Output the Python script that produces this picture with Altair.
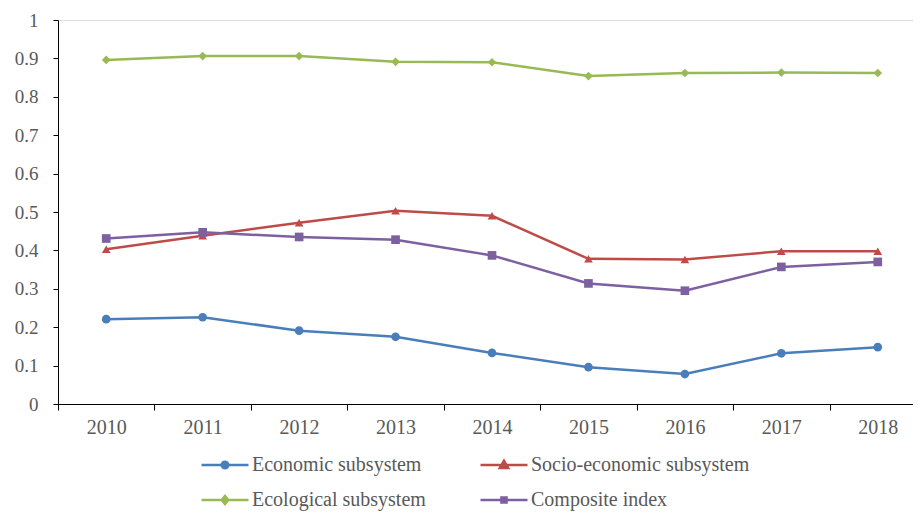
import altair as alt
import pandas as pd

years = ["2010", "2011", "2012", "2013", "2014", "2015", "2016", "2017", "2018"]
series_names = ["Economic subsystem", "Socio-economic subsystem", "Ecological subsystem", "Composite index"]
economic = [0.221, 0.226, 0.191, 0.175, 0.133, 0.096, 0.078, 0.132, 0.148]
socio_economic = [0.403, 0.438, 0.472, 0.503, 0.490, 0.378, 0.376, 0.398, 0.398]
ecological = [0.896, 0.906, 0.906, 0.891, 0.890, 0.854, 0.862, 0.863, 0.862]
composite = [0.431, 0.447, 0.435, 0.428, 0.387, 0.314, 0.295, 0.357, 0.370]
y_ticks = [0, 0.1, 0.2, 0.3, 0.4, 0.5, 0.6, 0.7, 0.8, 0.9, 1]

colors = ["#4A7EBB", "#BE4B48", "#98B954", "#7D60A0"]
marker_shapes = ["circle", "triangle-up", "diamond", "square"]
legend_shapes = [
    "M-1,0H1M-0.14,0A0.14,0.14 0 1,0 0.14,0A0.14,0.14 0 1,0 -0.14,0Z",
    "M-1,0H1M0,-0.18L0.18,0.13L-0.18,0.13Z",
    "M-1,0H1M0,-0.17L0.14,0L0,0.17L-0.14,0Z",
    "M-1,0H1M-0.11,-0.11H0.11V0.11H-0.11Z",
]

rows = []
for name, vals in zip(series_names, [economic, socio_economic, ecological, composite]):
    for y, v in zip(years, vals):
        rows.append({"year": y, "value": v, "series": name})
df = pd.DataFrame(rows)

FONT = "Liberation Serif"
TXT = "#595959"

x_enc = alt.X(
    "year:O",
    title=None,
    scale=alt.Scale(range=[0, 868], paddingInner=0, paddingOuter=0),
    axis=alt.Axis(
        labelAngle=0, tickBand="extent", tickSize=6, labelPadding=7,
        domainColor="#000000", tickColor="#000000", labelColor=TXT,
        labelFontSize=20, labelFont=FONT, grid=False,
    ),
)
y_enc = alt.Y(
    "value:Q",
    title=None,
    scale=alt.Scale(domain=[0, 1], nice=False),
    axis=alt.Axis(
        values=y_ticks, format="~g", tickSize=5, labelPadding=15,
        domainColor="#000000", tickColor="#000000", labelColor=TXT,
        labelFontSize=19, labelFont=FONT, grid=False,
    ),
)

layers = []
for name, col in zip(series_names, colors):
    layers.append(
        alt.Chart(df).transform_filter(alt.datum.series == name)
        .mark_line(strokeWidth=2.5, color=col)
        .encode(x=x_enc, y=y_enc)
    )
for name, col, shp in zip(series_names, colors, marker_shapes):
    layers.append(
        alt.Chart(df).transform_filter(alt.datum.series == name)
        .mark_point(filled=True, size=75, opacity=1, shape=shp, color=col)
        .encode(x=x_enc, y=y_enc)
    )


def make_legend():
    return alt.Legend(
        title=None, orient="none", legendX=142, legendY=420, columns=2,
        direction="horizontal", columnPadding=49, rowPadding=-3,
        symbolSize=2209, symbolStrokeWidth=2.5, symbolOpacity=1,
        labelFont=FONT, labelFontSize=20, labelColor=TXT, labelLimit=400,
        labelOffset=2, padding=0,
    )


legend_layer = alt.Chart(df).transform_filter("false").mark_point(
    filled=True, strokeWidth=2.5, opacity=1
).encode(
    fill=alt.Fill("series:N", scale=alt.Scale(domain=series_names, range=colors), legend=make_legend()),
    stroke=alt.Stroke("series:N", scale=alt.Scale(domain=series_names, range=colors), legend=make_legend()),
    shape=alt.Shape("series:N", scale=alt.Scale(domain=series_names, range=legend_shapes), legend=make_legend()),
)
layers.append(legend_layer)

chart = alt.layer(*layers).properties(
    width=855, height=384,
    autosize=alt.AutoSizeParams(type="none"),
    padding={"left": 50, "top": 12, "right": 0, "bottom": 107},
).configure_view(stroke=None).configure(font=FONT)

chart.save("out.html", embed_options={"renderer": "svg", "actions": False})
